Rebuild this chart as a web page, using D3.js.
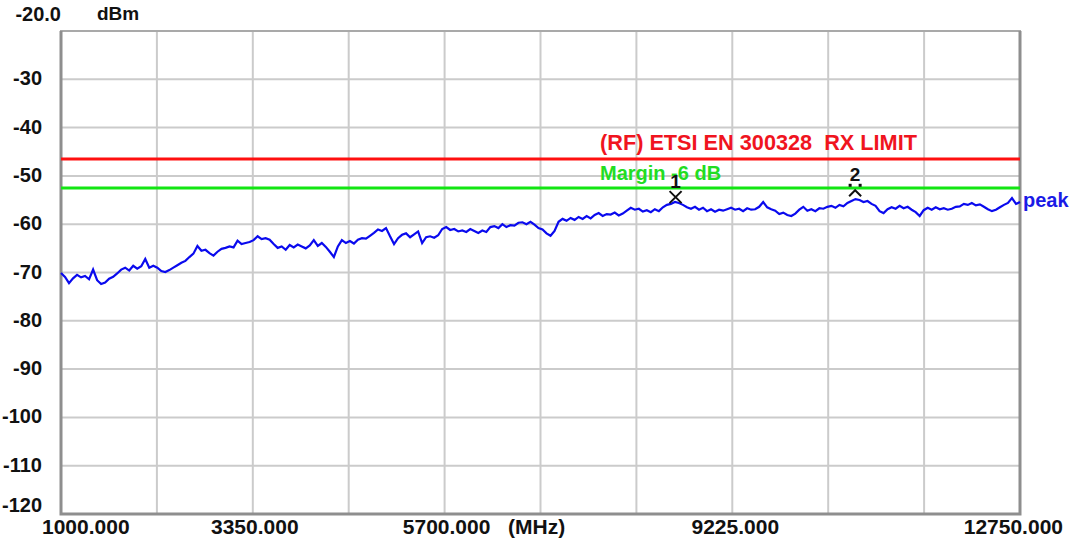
<!DOCTYPE html>
<html>
<head>
<meta charset="utf-8">
<script src="https://cdn.jsdelivr.net/npm/d3@7"></script>
<style>
  html, body { margin: 0; padding: 0; background: #fff; }
  svg { display: block; }
  text { font-family: "Liberation Sans", Arial, sans-serif; font-weight: bold; white-space: pre; }
</style>
</head>
<body>
<svg id="chart" width="1073" height="539"></svg>
<script>
// ---------------- data ----------------
const freqStart = 1000, freqStop = 12750;           // MHz
const levelTop = -20, levelBottom = -120;            // dBm
const xGrid = [1000, 2175, 3350, 4525, 5700, 6875, 8050, 9225, 10400, 11575, 12750];
const xTickValues = [1000, 3350, 5700, 9225, 12750];
const xTickLabels = ["1000.000", "3350.000", "5700.000", "9225.000", "12750.000"];
const yTickValues = [-20, -30, -40, -50, -60, -70, -80, -90, -100, -110, -120];
const yTickLabels = ["-20.0", "-30", "-40", "-50", "-60", "-70", "-80", "-90", "-100", "-110", "-120"];

const limitLevel = -46.5;
const limitLabel = "(RF) ETSI EN 300328  RX LIMIT";
const marginLevel = -52.5;
const marginLabel = "Margin -6 dB";

const markerFreqs = [8530, 10730];
const markerLevels = [-54.4, -53.6];
const markerLabels = ["1", "2"];

const traceName = "peak";
const peakTrace = [
  -70.1,-70.9,-72.2,-71.2,-70.5,-71.0,-70.7,-71.4,-69.4,-71.6,
  -72.4,-72.1,-71.3,-70.9,-70.2,-69.4,-69.0,-69.6,-68.6,-69.2,
  -68.7,-67.2,-69.0,-68.6,-69.0,-69.7,-69.9,-69.5,-69.0,-68.5,
  -68.0,-67.6,-66.8,-66.1,-64.5,-65.5,-65.3,-66.0,-66.5,-65.7,
  -65.1,-64.9,-64.6,-64.8,-63.4,-64.1,-63.9,-63.7,-63.3,-62.5,
  -63.1,-62.9,-63.2,-64.1,-64.9,-64.6,-65.3,-64.3,-64.8,-64.2,
  -64.6,-65.0,-64.4,-63.3,-64.5,-63.9,-64.7,-65.7,-66.8,-64.6,
  -63.3,-63.9,-63.5,-64.0,-63.2,-62.9,-63.0,-62.4,-61.8,-61.1,
  -61.4,-60.8,-62.5,-64.1,-62.9,-62.2,-61.9,-62.7,-62.1,-61.5,
  -63.9,-62.7,-62.5,-62.8,-62.3,-61.0,-60.6,-61.2,-61.0,-61.5,
  -61.3,-61.6,-61.0,-61.4,-61.8,-61.3,-61.6,-60.6,-60.4,-60.8,
  -60.0,-60.6,-60.2,-60.3,-59.7,-59.6,-60.0,-59.5,-60.1,-60.8,
  -61.1,-61.9,-62.4,-61.4,-59.5,-58.9,-59.3,-58.7,-59.1,-58.5,
  -58.9,-58.3,-58.8,-58.1,-57.7,-58.3,-57.9,-58.0,-57.6,-58.2,
  -57.8,-57.2,-56.6,-57.0,-56.8,-57.4,-57.1,-57.5,-56.9,-57.3,
  -56.5,-56.0,-55.8,-55.4,-55.6,-56.0,-56.5,-56.8,-56.4,-57.0,
  -56.6,-57.3,-56.9,-57.4,-57.0,-57.2,-56.9,-56.6,-57.0,-56.8,
  -57.3,-56.7,-57.0,-56.9,-56.4,-55.4,-56.5,-56.9,-57.2,-57.9,
  -57.6,-58.1,-58.3,-57.8,-57.0,-56.4,-57.2,-56.9,-57.3,-56.7,
  -56.8,-56.4,-56.2,-56.6,-56.0,-56.3,-55.6,-55.2,-54.8,-55.0,
  -55.4,-55.2,-55.8,-56.2,-57.3,-57.7,-56.9,-56.5,-56.8,-56.2,
  -56.7,-56.4,-57.0,-57.5,-58.3,-57.1,-56.6,-57.0,-56.5,-56.9,
  -56.7,-57.0,-56.8,-56.4,-56.3,-55.8,-56.0,-55.6,-56.1,-55.9,
  -56.4,-56.9,-57.3,-57.0,-56.5,-56.0,-55.6,-54.6,-55.8,-55.4
];

// ---------------- layout ----------------
const svg = d3.select("#chart");
const x = d3.scaleLinear().domain([freqStart, freqStop]).range([61, 1020]);
const y = d3.scaleLinear().domain([levelBottom, levelTop]).range([514, 31]);
const sweep = d3.scaleLinear().domain([0, peakTrace.length - 1]).range([freqStart, freqStop]);

const gridColor = "#cbcbcb";
const frameColor = "#8e8e8e";

// grid
svg.append("g").selectAll("line").data(xGrid).join("line")
  .attr("x1", d => x(d)).attr("x2", d => x(d))
  .attr("y1", y(levelTop)).attr("y2", y(levelBottom))
  .attr("stroke", gridColor).attr("stroke-width", 2);
svg.append("g").selectAll("line").data(yTickValues).join("line")
  .attr("x1", x(freqStart)).attr("x2", x(freqStop))
  .attr("y1", d => y(d)).attr("y2", d => y(d))
  .attr("stroke", gridColor).attr("stroke-width", 2);

// frame
svg.append("rect")
  .attr("x", x(freqStart)).attr("y", y(levelTop))
  .attr("width", x(freqStop) - x(freqStart))
  .attr("height", y(levelBottom) - y(levelTop))
  .attr("fill", "none").attr("stroke", "#a9a9a9").attr("stroke-width", 2);
svg.append("path")
  .attr("d", `M${x(freqStart)},${y(levelTop)}V${y(levelBottom)}H${x(freqStop)}V${y(levelTop)}`)
  .attr("fill", "none").attr("stroke", frameColor).attr("stroke-width", 3);

// y labels
svg.append("g").selectAll("text").data(yTickValues).join("text")
  .attr("x", (d, i) => i === 0 ? x(freqStart) : 42)
  .attr("y", (d, i) => i === 0 ? 14 : (i === yTickValues.length - 1 ? y(d) - 9 : y(d) - 1))
  .attr("text-anchor", "end")
  .attr("dominant-baseline", "central")
  .attr("font-size", 20)
  .attr("fill", "#111")
  .text((d, i) => yTickLabels[i]);
svg.append("text").attr("x", 97).attr("y", 13)
  .attr("dominant-baseline", "central").attr("font-size", 19).attr("fill", "#111").text("dBm");

// x labels
const xAnchor = ["start", "middle", "middle", "middle", "end"];
const xOffset = [-19, 2, 2, 3, 43];
svg.append("g").selectAll("text").data(xTickValues).join("text")
  .attr("x", (d, i) => x(d) + xOffset[i])
  .attr("y", 526)
  .attr("text-anchor", (d, i) => xAnchor[i])
  .attr("dominant-baseline", "central")
  .attr("font-size", 21)
  .attr("fill", "#111")
  .text((d, i) => xTickLabels[i]);
svg.append("text").attr("x", 508).attr("y", 526)
  .attr("dominant-baseline", "central").attr("font-size", 21).attr("fill", "#111").text("(MHz)");

// limit + margin lines
svg.append("line").attr("x1", x(freqStart)).attr("x2", x(freqStop))
  .attr("y1", y(limitLevel)).attr("y2", y(limitLevel))
  .attr("stroke", "#ff1010").attr("stroke-width", 3);
svg.append("text").attr("x", 600).attr("y", y(limitLevel) - 16)
  .attr("dominant-baseline", "central").attr("font-size", 21.7).attr("fill", "#f0141e").text(limitLabel);
svg.append("line").attr("x1", x(freqStart)).attr("x2", x(freqStop))
  .attr("y1", y(marginLevel)).attr("y2", y(marginLevel))
  .attr("stroke", "#12e612").attr("stroke-width", 3);

// trace
const line = d3.line().x((d, i) => x(sweep(i))).y(d => y(d));
svg.append("path").datum(peakTrace)
  .attr("d", line)
  .attr("fill", "none").attr("stroke", "#0a0aee").attr("stroke-width", 2.2)
  .attr("stroke-linejoin", "miter");

svg.append("text").attr("x", 600).attr("y", y(marginLevel) - 15)
  .attr("dominant-baseline", "central").attr("font-size", 20).attr("fill", "#22dd22").text(marginLabel);

svg.append("text").attr("x", x(freqStop) + 3).attr("y", y(peakTrace[peakTrace.length - 1]) - 2)
  .attr("dominant-baseline", "central").attr("font-size", 20).attr("fill", "#1a1ae6").text(traceName);

// markers
const mk = svg.append("g").attr("stroke", "#111").attr("fill", "none").attr("stroke-width", 2);
{
  const cx = x(markerFreqs[0]), cy = y(markerLevels[0]);
  mk.append("path").attr("d", `M${cx - 6},${cy - 6}L${cx + 6},${cy + 6}M${cx + 6},${cy - 6}L${cx - 6},${cy + 6}`);
  svg.append("text").attr("x", cx).attr("y", cy - 16).attr("text-anchor", "middle")
    .attr("dominant-baseline", "central").attr("font-size", 19).attr("fill", "#111").text(markerLabels[0]);
}
{
  const cx = x(markerFreqs[1]), cy = y(markerLevels[1]);
  mk.append("path").attr("d", `M${cx - 6},${cy + 3}L${cx},${cy - 3}L${cx + 6},${cy + 3}`);
  svg.append("g").selectAll("rect").data([-5, 5]).join("rect")
    .attr("x", d => cx + d - 1.5).attr("y", cy - 9.5).attr("width", 3).attr("height", 3).attr("fill", "#111");
  svg.append("text").attr("x", cx).attr("y", cy - 19).attr("text-anchor", "middle")
    .attr("dominant-baseline", "central").attr("font-size", 19).attr("fill", "#111").text(markerLabels[1]);
}
</script>
</body>
</html>
